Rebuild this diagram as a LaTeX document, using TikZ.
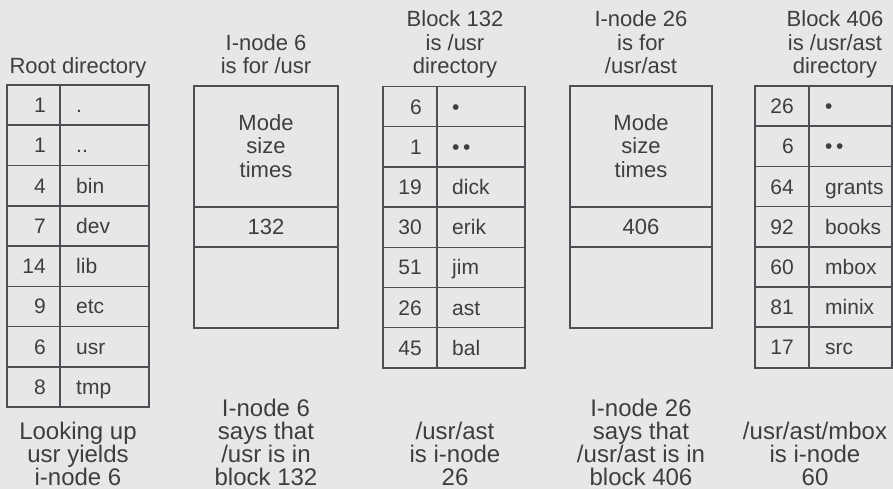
\documentclass[tikz,border=0pt]{standalone}
\usepackage{fontspec}
\setmainfont{Liberation Sans}
\definecolor{bg}{RGB}{231,231,231}
\definecolor{ink}{RGB}{62,62,62}
\definecolor{rulec}{RGB}{78,78,84}
\begin{document}
\begin{tikzpicture}[x=1pt,y=-1pt,
  tbl/.style={draw=rulec, line width=1.5pt},
  txt/.style={text=ink, font=\fontsize{21}{25}\selectfont, inner sep=0pt},
  num/.style={txt, anchor=base east},
  nm/.style={txt, anchor=base west},
  ttl/.style={txt, anchor=base, font=\fontsize{22}{25}\selectfont},
  btm/.style={txt, anchor=base, font=\fontsize{24}{25}\selectfont}]
\fill[bg] (0,0) rectangle (893,489);
\useasboundingbox (0,0) rectangle (893,489);

% ---------- Root directory ----------
\node[ttl] (t1) at (78,74) {Root directory};
\draw[tbl] (7,85) rectangle (149,407);
\draw[tbl] (60,85) -- (60,407);
\foreach \i in {1,...,7} \draw[tbl] (7,{85+\i*40.25}) -- (149,{85+\i*40.25});
\foreach \n/\f [count=\i] in {1/{.},1/{..},4/bin,7/dev,14/lib,9/etc,6/usr,8/tmp} {
  \node[num] (rn\i) at (46,{85+(\i-0.5)*40.25+7.5}) {\n};
  \node[nm]  (rf\i) at (76,{85+(\i-0.5)*40.25+7.5}) {\f};
}

% ---------- I-node 6 ----------
\node[ttl] (t2a) at (266,50.5) {I-node 6};
\node[ttl] (t2b) at (266,74) {is for /usr};
\draw[tbl] (194,86) rectangle (338,328);
\draw[tbl] (194,207) -- (338,207);
\draw[tbl] (194,247) -- (338,247);
\node[ttl] (m1a) at (266,130.5) {Mode};
\node[ttl] (m1b) at (266,154) {size};
\node[ttl] (m1c) at (266,177.5) {times};
\node[ttl] (m1d) at (266,234.5) {132};

% ---------- Block 132 ----------
\node[ttl] (t3a) at (455,27) {Block 132};
\node[ttl] (t3b) at (455,50.5) {is /usr};
\node[ttl] (t3c) at (455,74) {directory};
\draw[tbl] (383,86.5) rectangle (525,368);
\draw[tbl] (437,86.5) -- (437,368);
\foreach \i in {1,...,6} \draw[tbl] (383,{86.5+\i*40.2}) -- (525,{86.5+\i*40.2});
\foreach \n/\f [count=\i] in {6/{•},1/{•\,•},19/dick,30/erik,51/jim,26/ast,45/bal} {
  \node[num] (bn\i) at (422,{86.5+(\i-0.5)*40.2+7.5}) {\n};
  \node[nm]  (bf\i) at (452,{86.5+(\i-0.5)*40.2+7.5}) {\f};
}

% ---------- I-node 26 ----------
\node[ttl] (t4a) at (641,27) {I-node 26};
\node[ttl] (t4b) at (641,50.5) {is for};
\node[ttl] (t4c) at (641,74) {/usr/ast};
\draw[tbl] (570,86) rectangle (712,328);
\draw[tbl] (570,207) -- (712,207);
\draw[tbl] (570,247) -- (712,247);
\node[ttl] (m2a) at (641,130.5) {Mode};
\node[ttl] (m2b) at (641,154) {size};
\node[ttl] (m2c) at (641,177.5) {times};
\node[ttl] (m2d) at (641,234.5) {406};

% ---------- Block 406 ----------
\node[ttl] (t5a) at (835,27) {Block 406};
\node[ttl] (t5b) at (835,50.5) {is /usr/ast};
\node[ttl] (t5c) at (835,74) {directory};
\draw[tbl] (755,86) rectangle (892,368);
\draw[tbl] (809,86) -- (809,368);
\foreach \i in {1,...,6} \draw[tbl] (755,{86+\i*40.2}) -- (892,{86+\i*40.2});
\foreach \n/\f [count=\i] in {26/{•},6/{•\,•},64/grants,92/books,60/mbox,81/minix,17/src} {
  \node[num] (cn\i) at (794,{86+(\i-0.5)*40.2+7.5}) {\n};
  \node[nm]  (cf\i) at (825,{86+(\i-0.5)*40.2+7.5}) {\f};
}

% ---------- Bottom captions ----------
\node[btm] (b1a) at (78,439) {Looking up};
\node[btm] (b1b) at (78,462) {usr yields};
\node[btm] (b1c) at (78,485) {i-node 6};

\node[btm] (b2a) at (266,416) {I-node 6};
\node[btm] (b2b) at (266,439) {says that};
\node[btm] (b2c) at (266,462) {/usr is in};
\node[btm] (b2d) at (266,485) {block 132};

\node[btm] (b3a) at (455,439) {/usr/ast};
\node[btm] (b3b) at (455,462) {is i-node};
\node[btm] (b3c) at (455,485) {26};

\node[btm] (b4a) at (641,416) {I-node 26};
\node[btm] (b4b) at (641,439) {says that};
\node[btm] (b4c) at (641,462) {/usr/ast is in};
\node[btm] (b4d) at (641,485) {block 406};

\node[btm] (b5a) at (815,439) {/usr/ast/mbox};
\node[btm] (b5b) at (815,462) {is i-node};
\node[btm] (b5c) at (815,485) {60};
\end{tikzpicture}
\end{document}
